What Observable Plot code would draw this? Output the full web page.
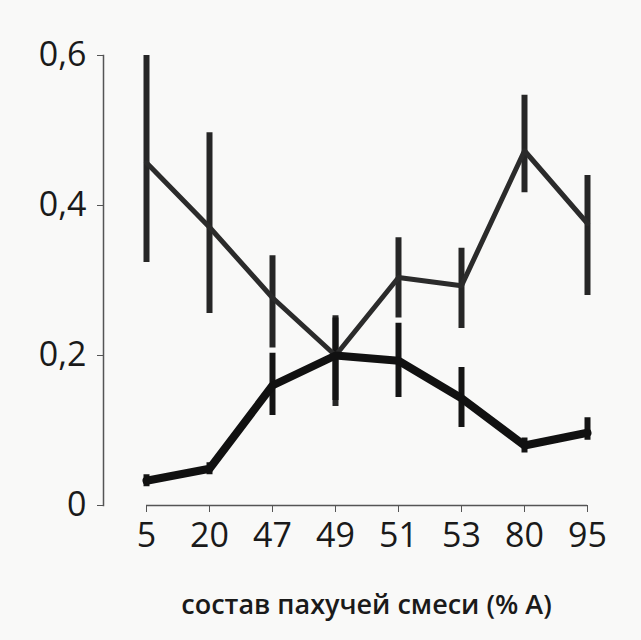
<!DOCTYPE html>
<html>
<head>
<meta charset="utf-8">
<script src="https://cdn.jsdelivr.net/npm/d3@7"></script>
<script src="https://cdn.jsdelivr.net/npm/@observablehq/plot@0.6"></script>
<style>
  html, body { margin: 0; padding: 0; background: #f9f9f8; }
  #chart svg { display: block; }
</style>
</head>
<body>
<div id="chart"></div>
<script>
const categories = ["5", "20", "47", "49", "51", "53", "80", "95"];
const upperMean = [0.457, 0.371, 0.277, 0.200, 0.304, 0.293, 0.473, 0.376];
const upperLow  = [0.324, 0.256, 0.210, 0.132, 0.250, 0.236, 0.417, 0.280];
const upperHigh = [0.600, 0.497, 0.333, 0.253, 0.357, 0.343, 0.547, 0.440];
const lowerMean = [0.033, 0.049, 0.160, 0.200, 0.193, 0.143, 0.080, 0.097];
const lowerLow  = [0.025, 0.041, 0.120, 0.140, 0.144, 0.104, 0.070, 0.087];
const lowerHigh = [0.041, 0.057, 0.203, 0.250, 0.243, 0.184, 0.090, 0.117];
const yTicks = [0, 0.2, 0.4, 0.6];
const xTitle = "состав пахучей смеси (% А)";

const upper = categories.map((c, i) => ({x: c, y: upperMean[i], lo: upperLow[i], hi: upperHigh[i]}));
const lower = categories.map((c, i) => ({x: c, y: lowerMean[i], lo: lowerLow[i], hi: lowerHigh[i]}));

const fmt = d => d === 0 ? "0" : d.toFixed(1).replace(".", ",");
const font = "'Open Sans', sans-serif";

const chart = Plot.plot({
  width: 641,
  height: 640,
  marginLeft: 103,
  marginRight: 54,
  marginTop: 55,
  marginBottom: 135,
  style: {background: "#f9f9f8", fontFamily: font, color: "#1a1a1a"},
  x: {type: "point", domain: categories, insetLeft: 42, padding: 0},
  y: {domain: [0, 0.6]},
  marks: [
    Plot.frame({anchor: "left", stroke: "#555", strokeWidth: 1.5}),
    Plot.ruleY([0], {x1: () => categories[0], x2: () => categories[categories.length - 1], stroke: "#555", strokeWidth: 1.5}),
    Plot.axisY(yTicks, {tickFormat: fmt, tickSize: 6, tickPadding: 11, fontSize: 34, fontWeight: 500, stroke: "#555", label: null}),
    Plot.axisX({tickSize: 7, tickPadding: 10, fontSize: 34, fontWeight: 500, stroke: "#555", label: null}),
    Plot.ruleX(upper, {x: "x", y1: "lo", y2: "hi", stroke: "#262626", strokeWidth: 6}),
    Plot.ruleX(lower, {x: "x", y1: "lo", y2: "hi", stroke: "#141414", strokeWidth: 6}),
    Plot.line(upper, {x: "x", y: "y", stroke: "#2b2b2b", strokeWidth: 5, strokeLinejoin: "round"}),
    Plot.line(lower, {x: "x", y: "y", stroke: "#111", strokeWidth: 8, strokeLinejoin: "round", strokeLinecap: "round"}),
    Plot.text([xTitle], {frameAnchor: "bottom", dx: 21, dy: 108, fontSize: 27, fontWeight: 600, fill: "#1a1a1a", text: d => d})
  ]
});
document.getElementById("chart").appendChild(chart);
</script>
</body>
</html>
